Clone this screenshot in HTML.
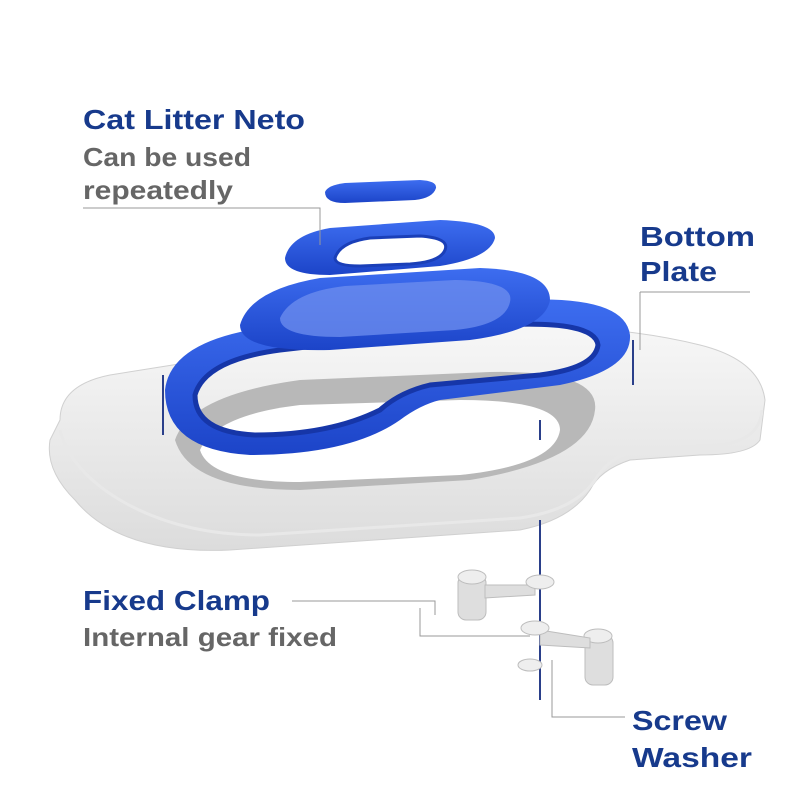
<!DOCTYPE html>
<html><head><meta charset="utf-8"><style>
body{margin:0;background:#fff;}
svg{display:block}
text{font-family:"Liberation Sans",sans-serif;font-weight:bold;}
</style></head><body>
<svg width="800" height="800" viewBox="0 0 800 800" xmlns="http://www.w3.org/2000/svg">
<defs>
<linearGradient id="pl" x1="0" y1="0" x2="0" y2="1"><stop offset="0" stop-color="#f7f7f7"/><stop offset="1" stop-color="#dcdcdc"/></linearGradient>
<linearGradient id="bl" x1="0" y1="0" x2="0" y2="1"><stop offset="0" stop-color="#3d6df0"/><stop offset="1" stop-color="#1c44c8"/></linearGradient>
</defs>
<path d="M60 420 Q60 385 110 375 L330 340 Q560 310 700 345 Q760 360 765 400 L760 440 Q750 455 700 455 L630 460 Q600 470 590 490 Q570 520 520 530 L230 550 Q120 555 75 500 Q45 470 50 440 Z" fill="url(#pl)" stroke="#d0d0d0"/>
<path d="M60 430 Q70 470 120 500 Q180 535 260 535 L520 518 Q575 510 595 480 Q610 455 640 450 L720 445 Q760 440 762 410" fill="none" stroke="#e8e8e8" stroke-width="3"/>
<path d="M175 440 Q190 395 300 380 L490 372 Q600 370 595 410 Q590 460 470 480 L300 490 Q190 490 175 440 Z" fill="#b8b8b8"/>
<path d="M200 450 Q215 415 300 405 L460 400 Q560 400 560 430 Q555 465 460 475 L300 482 Q210 482 200 450 Z" fill="#fff"/>
<!-- big blue ring (band) -->
<path fill-rule="evenodd" fill="url(#bl)" d="M165 390 Q170 345 250 330 L520 300 Q625 295 630 335 Q632 370 560 385 L440 400 Q420 405 400 420 Q350 455 250 455 Q165 450 165 390 Z M195 395 Q205 360 280 350 L500 325 Q595 320 598 345 Q595 368 540 375 L430 385 Q400 392 380 410 Q330 435 255 435 Q195 432 195 395 Z"/>
<path d="M195 395 Q205 360 280 350 L500 325 Q595 320 598 345 Q595 368 540 375 L430 385 Q400 392 380 410 Q330 435 255 435 Q195 432 195 395 Z" fill="none" stroke="#1636a8" stroke-width="5"/>
<!-- middle ring -->
<path d="M240 325 Q250 290 320 278 L480 268 Q550 270 550 300 Q545 330 470 340 L330 350 Q240 352 240 325 Z" fill="url(#bl)"/>
<path d="M280 318 Q292 292 345 286 L455 280 Q515 281 510 302 Q505 325 455 330 L340 337 Q280 337 280 318 Z" fill="#6f8fef" opacity="0.75"/>
<!-- upper ring -->
<path d="M285 258 Q290 235 330 228 L440 220 Q495 222 495 238 Q490 258 440 266 L330 275 Q285 275 285 258 Z" fill="url(#bl)"/>
<path d="M335 258 Q340 242 370 238 L420 236 Q450 238 445 250 Q440 262 410 264 L360 266 Q335 266 335 258 Z" fill="#fff" stroke="#1a3fb8" stroke-width="3"/>
<path d="M325 192 Q328 185 345 183 L420 180 Q437 181 436 188 Q433 198 415 200 L345 203 Q325 203 325 192 Z" fill="url(#bl)"/>
<g stroke="#999" stroke-width="1" fill="none">
<path d="M83 208 L320 208 L320 245"/>
<path d="M640 292 L750 292"/><path d="M640 292 L640 350"/>
<path d="M292 601 L435 601 L435 615"/>
<path d="M420 608 L420 636 L530 636"/>
<path d="M552 660 L552 717 L625 717"/>
</g>
<g stroke="#2a3f8a" stroke-width="2">
<line x1="163" y1="375" x2="163" y2="435"/><line x1="633" y1="340" x2="633" y2="385"/>
<line x1="540" y1="520" x2="540" y2="700"/><line x1="540" y1="420" x2="540" y2="440"/>
</g>
<g fill="#dedede" stroke="#bdbdbd">
<rect x="458" y="575" width="28" height="45" rx="8"/>
<ellipse cx="472" cy="577" rx="14" ry="7" fill="#eee"/>
<path d="M485 585 L535 585 L535 595 L485 598 Z"/>
<ellipse cx="540" cy="582" rx="14" ry="7" fill="#eee"/>
<rect x="585" y="635" width="28" height="50" rx="8"/>
<ellipse cx="598" cy="636" rx="14" ry="7" fill="#eee"/>
<path d="M540 630 L590 638 L590 648 L540 645 Z"/>
<ellipse cx="535" cy="628" rx="14" ry="7" fill="#eee"/>
<ellipse cx="530" cy="665" rx="12" ry="6" fill="#eee"/>
</g>
<text x="83" y="129" font-size="28" fill="#173a8c" textLength="222" lengthAdjust="spacingAndGlyphs">Cat Litter Neto</text>
<text x="83" y="166" font-size="26" fill="#666" textLength="168" lengthAdjust="spacingAndGlyphs">Can be used</text>
<text x="83" y="199" font-size="26" fill="#666" textLength="150" lengthAdjust="spacingAndGlyphs">repeatedly</text>
<text x="640" y="246" font-size="28" fill="#173a8c" textLength="115" lengthAdjust="spacingAndGlyphs">Bottom</text>
<text x="640" y="281" font-size="28" fill="#173a8c" textLength="77" lengthAdjust="spacingAndGlyphs">Plate</text>
<text x="83" y="610" font-size="28" fill="#173a8c" textLength="187" lengthAdjust="spacingAndGlyphs">Fixed Clamp</text>
<text x="83" y="646" font-size="26" fill="#666" textLength="254" lengthAdjust="spacingAndGlyphs">Internal gear fixed</text>
<text x="632" y="730" font-size="28" fill="#173a8c" textLength="95" lengthAdjust="spacingAndGlyphs">Screw</text>
<text x="632" y="767" font-size="28" fill="#173a8c" textLength="120" lengthAdjust="spacingAndGlyphs">Washer</text>
</svg>
</body></html>
